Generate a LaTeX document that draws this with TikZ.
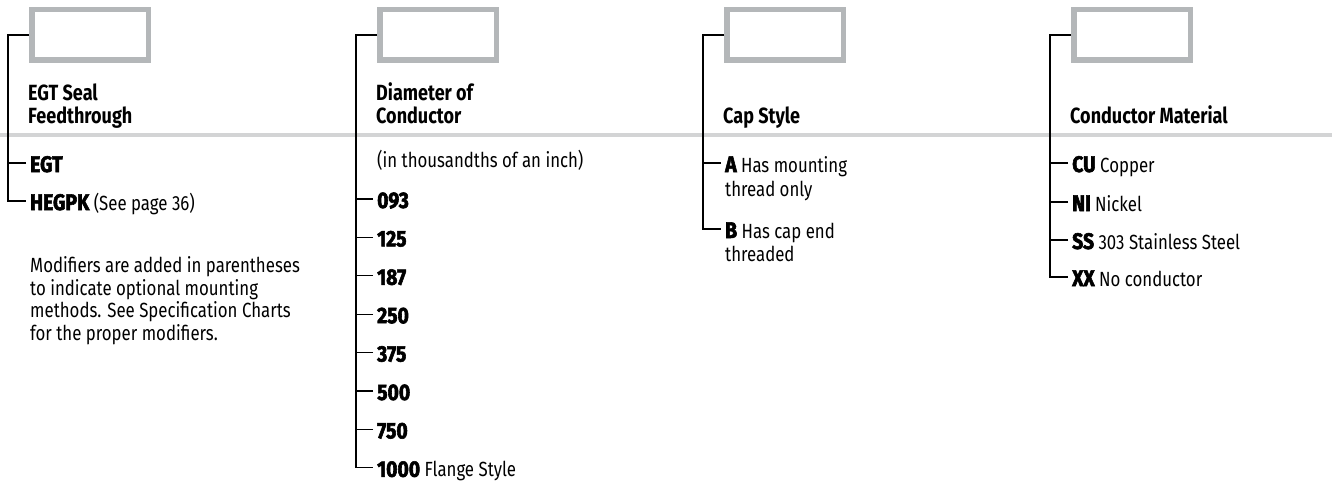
\documentclass[tikz,border=0pt]{standalone}
\usepackage{fontspec}
\definecolor{mBoxGrey}{HTML}{B4B7B9}
\definecolor{mRuleGrey}{HTML}{D3D4D5}
\newfontfamily\bodyFont[FakeStretch=0.82]{Fira Sans}
\newfontfamily\titleFont[FakeStretch=0.82]{Fira Sans}
\newfontfamily\codeFont[FakeStretch=0.86,BoldFeatures={FakeBold=2.5}]{Fira Sans}
\newcommand{\code}[1]{{\codeFont\bfseries\fontsize{22.5}{26}\selectfont #1}}
\tikzset{
  selbox/.style={draw=mBoxGrey, line width=5.5pt, minimum width=116.5pt,
    minimum height=50.5pt, inner sep=0pt},
  treeline/.style={line width=1.2pt, black},
  heading/.style={anchor=base west, align=left, inner sep=0pt,
    font=\titleFont\bfseries\fontsize{22}{23}\selectfont},
  entry/.style={anchor=base west, inner xsep=4pt, inner ysep=0pt,
    font=\bodyFont\fontsize{20.5}{22.5}\selectfont},
}

\begin{document}
\begin{tikzpicture}[x=1pt,y=-1pt]
        \useasboundingbox (0,0) rectangle (1332,487);

        \def\tickup{9pt}
        \def\ticklen{18}

        % Separator
        \draw[mRuleGrey, line width=4pt] (0,135) -- (1332,135);

        % Selection boxes
        \node[selbox] (box1) at (90,35) {};
        \node[selbox] (box2) at (438,35) {};
        \node[selbox] (box3) at (785,35) {};
        \node[selbox] (box4) at (1132,35) {};

        % Headings (base = last line)
        \node[heading] (head1) at (28,123) {EGT Seal\\Feedthrough};
        \node[heading] (head2) at (376,123) {Diameter of\\Conductor};
        \node[heading] (head3) at (723,123) {Cap Style};
        \node[heading] (head4) at (1070,123) {Conductor Material};

        % Seal type
        \node[entry] (egt) at (26,172) {\code{EGT}};
        \node[entry] (hegpk) at (26,210) {\code{HEGPK} (See page 36)};
        \node[entry, align=left] (modnote) at (26,340) {Modifiers are added in parentheses\\
          to indicate optional mounting\\methods. See Specification Charts\\for the proper modifiers.};

        % Diameter of conductor
        \node[entry] (unit) at (373,167) {(in thousandths of an inch)};
        \node[entry] (d093) at (373,208) {\code{093}};
        \node[entry] (d125) at (373,246.4) {\code{125}};
        \node[entry] (d187) at (373,284.8) {\code{187}};
        \node[entry] (d250) at (373,323.2) {\code{250}};
        \node[entry] (d375) at (373,361.6) {\code{375}};
        \node[entry] (d500) at (373,400) {\code{500}};
        \node[entry] (d750) at (373,438.4) {\code{750}};
        \node[entry] (d1000) at (373,476.8) {\code{1000} Flange Style};

        % Cap style
        \node[entry] (capA) at (721,172) {\code{A} Has mounting};
        \node[entry] (capAnext) at (721,196) {thread only};
        \node[entry] (capB) at (721,238) {\code{B} Has cap end};
        \node[entry] (capBnext) at (721,261) {threaded};

        % Conductor material
        \node[entry] (cu) at (1068,172) {\code{CU} Copper};
        \node[entry] (ni) at (1068,211) {\code{NI} Nickel};
        \node[entry] (ss) at (1068,249) {\code{SS} 303 Stainless Steel};
        \node[entry] (xx) at (1068,286) {\code{XX} No conductor};

        % Trunks
        \coordinate (trunk1) at (8,35);
        \coordinate (trunk2) at (356,35);
        \coordinate (trunk3) at (703,35);
        \coordinate (trunk4) at (1050,35);
        \draw[treeline] (box1.west) -- (trunk1) |- ([yshift=\tickup]hegpk.base west);
        \draw[treeline] (box2.west) -- (trunk2) |- ([yshift=\tickup]d1000.base west);
        \draw[treeline] (box3.west) -- (trunk3) |- ([yshift=\tickup]capB.base west);
        \draw[treeline] (box4.west) -- (trunk4) |- ([yshift=\tickup]xx.base west);

        % Ticks
        \draw[treeline] ([yshift=\tickup]egt.base west) -- ++(-\ticklen,0);
        \draw[treeline] ([yshift=\tickup]d093.base west) -- ++(-\ticklen,0);
        \draw[treeline] ([yshift=\tickup]d125.base west) -- ++(-\ticklen,0);
        \draw[treeline] ([yshift=\tickup]d187.base west) -- ++(-\ticklen,0);
        \draw[treeline] ([yshift=\tickup]d250.base west) -- ++(-\ticklen,0);
        \draw[treeline] ([yshift=\tickup]d375.base west) -- ++(-\ticklen,0);
        \draw[treeline] ([yshift=\tickup]d500.base west) -- ++(-\ticklen,0);
        \draw[treeline] ([yshift=\tickup]d750.base west) -- ++(-\ticklen,0);
        \draw[treeline] ([yshift=\tickup]capA.base west) -- ++(-\ticklen,0);
        \draw[treeline] ([yshift=\tickup]cu.base west) -- ++(-\ticklen,0);
        \draw[treeline] ([yshift=\tickup]ni.base west) -- ++(-\ticklen,0);
        \draw[treeline] ([yshift=\tickup]ss.base west) -- ++(-\ticklen,0);
\end{tikzpicture}
\end{document}
